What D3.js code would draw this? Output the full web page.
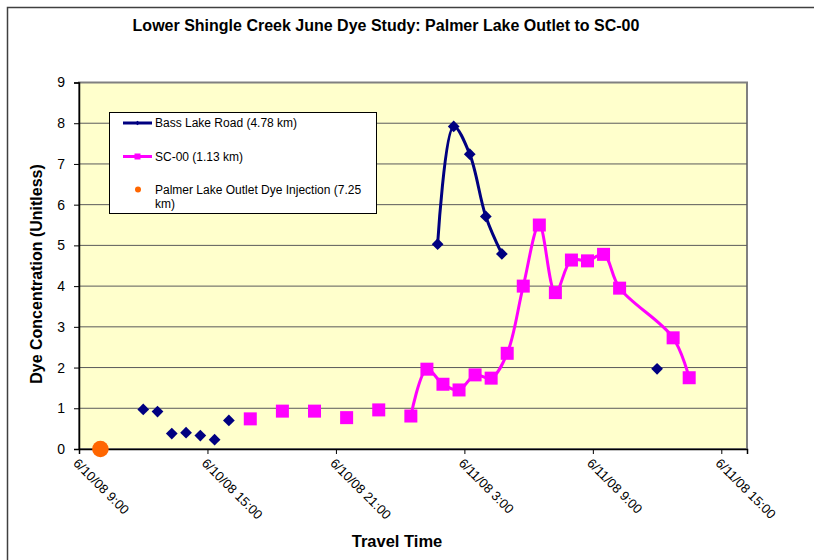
<!DOCTYPE html>
<html>
<head>
<meta charset="utf-8">
<script src="https://cdn.jsdelivr.net/npm/d3@7"></script>
<style>
  body { margin: 0; background: #fff; }
  text { font-family: Arial, "Liberation Sans", sans-serif; }
</style>
</head>
<body>
<div id="chart"></div>
<script>
// Travel times (6/10/08 - 6/11/08) and dye readings
var bassTimes  = ['6/10/08 12:00', '6/10/08 12:40', '6/10/08 13:20', '6/10/08 14:00', '6/10/08 14:40',
                  '6/10/08 15:20', '6/10/08 16:00', '6/11/08 1:45', '6/11/08 2:30', '6/11/08 3:15',
                  '6/11/08 4:00', '6/11/08 4:45', '6/11/08 12:00'];
var bassValues = [0.97, 0.92, 0.38, 0.40, 0.33, 0.23, 0.70, 5.03, 7.92, 7.24, 5.71, 4.79, 1.97];
// runs of consecutive readings joined by a line (blank rows break the line)
var bassRuns   = [0, 1, 2, 3, 4, 5, 6, 7, 7, 7, 7, 7, 8];

var scTimes  = ['6/10/08 17:00', '6/10/08 18:30', '6/10/08 20:00', '6/10/08 21:30', '6/10/08 23:00',
                '6/11/08 0:30', '6/11/08 1:15', '6/11/08 2:00', '6/11/08 2:45', '6/11/08 3:30',
                '6/11/08 4:15', '6/11/08 5:00', '6/11/08 5:45', '6/11/08 6:30', '6/11/08 7:15',
                '6/11/08 8:00', '6/11/08 8:45', '6/11/08 9:30', '6/11/08 10:15', '6/11/08 12:45',
                '6/11/08 13:30'];
var scValues = [0.74, 0.93, 0.93, 0.77, 0.96, 0.81, 1.96, 1.59, 1.45, 1.82, 1.74, 2.35, 4.00, 5.50,
                3.84, 4.64, 4.62, 4.78, 3.95, 2.73, 1.75];
var scRuns   = [0, 1, 2, 3, 4, 5, 5, 5, 5, 5, 5, 5, 5, 5, 5, 5, 5, 5, 5, 5, 5];

var injectTimes  = ['6/10/08 10:00'];
var injectValues = [0];

var xDomain = ['6/10/08 9:00', '6/11/08 16:12'];
var xTickLabels = ['6/10/08 9:00', '6/10/08 15:00', '6/10/08 21:00', '6/11/08 3:00', '6/11/08 9:00', '6/11/08 15:00'];
var yTicks = [0, 1, 2, 3, 4, 5, 6, 7, 8, 9];

var legendLabels = ['Bass Lake Road (4.78 km)', 'SC-00 (1.13 km)', 'Palmer Lake Outlet Dye Injection (7.25', 'km)'];

var parseTime = d3.utcParse('%m/%d/%y %H:%M');

function toPoints(times, values, runs) {
    return times.map(function(t, i) {
        return { t: parseTime(t), v: values[i], run: runs ? runs[i] : i };
    });
}
var bassData = toPoints(bassTimes, bassValues, bassRuns);
var scData = toPoints(scTimes, scValues, scRuns);
var injectData = toPoints(injectTimes, injectValues);

var width = 814, height = 560;
var plot = { left: 79, top: 82.5, right: 747, bottom: 449 };

var svg = d3.select('#chart').append('svg')
    .attr('width', width)
    .attr('height', height);

// outer chart frame (runs off the right and bottom edges)
svg.append('rect')
    .attr('x', 7.5).attr('y', 7.5)
    .attr('width', 830).attr('height', 580)
    .attr('fill', '#fff')
    .attr('stroke', '#404040')
    .attr('stroke-width', 1.5);

var x = d3.scaleUtc()
    .domain(xDomain.map(parseTime))
    .range([plot.left, plot.right]);
var y = d3.scaleLinear()
    .domain([0, 9])
    .range([plot.bottom, plot.top]);

// plot area
svg.append('rect')
    .attr('x', plot.left).attr('y', plot.top)
    .attr('width', plot.right - plot.left).attr('height', plot.bottom - plot.top)
    .attr('fill', '#FFFFCC')
    .attr('stroke', '#808080')
    .attr('stroke-width', 2);

// gridlines
svg.append('g')
    .selectAll('line')
    .data(yTicks.filter(function(d) { return d > 0 && d < 9; }))
    .enter()
    .append('line')
        .attr('x1', plot.left).attr('x2', plot.right)
        .attr('y1', function(d) { return y(d); })
        .attr('y2', function(d) { return y(d); })
        .attr('stroke', '#5a5a5a')
        .attr('stroke-width', 1);

// y axis
var yAxis = svg.append('g')
    .attr('transform', 'translate(' + plot.left + ',0)')
    .call(d3.axisLeft(y).tickValues(yTicks).tickSize(5).tickPadding(9).tickFormat(d3.format('d')));
yAxis.select('.domain').attr('stroke', '#000').attr('stroke-width', 1.5);
yAxis.selectAll('.tick line').attr('stroke', '#000');
yAxis.selectAll('.tick text')
    .attr('font-size', '14px')
    .attr('font-family', 'Arial, "Liberation Sans", sans-serif')
    .attr('fill', '#000');

// x axis
var xTickDates = xTickLabels.map(parseTime);
var xAxis = svg.append('g')
    .attr('transform', 'translate(0,' + plot.bottom + ')')
    .call(d3.axisBottom(x).tickValues(xTickDates).tickSize(5)
        .tickFormat(function(d, i) { return xTickLabels[i]; }));
xAxis.select('.domain').attr('stroke', '#000').attr('stroke-width', 1.5);
xAxis.selectAll('.tick line').attr('stroke', '#000');
xAxis.selectAll('.tick text')
    .attr('font-size', '13px')
    .attr('font-family', 'Arial, "Liberation Sans", sans-serif')
    .attr('fill', '#000')
    .attr('text-anchor', 'start')
    .attr('dy', null)
    .attr('y', 0)
    .attr('transform', 'translate(-7,15) rotate(45)');

// lines
var line = d3.line()
    .x(function(d) { return x(d.t); })
    .y(function(d) { return y(d.v); })
    .curve(d3.curveCatmullRom);

function drawRuns(data, color) {
    var runs = d3.groups(data, function(d) { return d.run; });
    svg.append('g')
        .selectAll('path')
        .data(runs.filter(function(r) { return r[1].length > 1; }))
        .enter()
        .append('path')
            .attr('d', function(r) { return line(r[1]); })
            .attr('fill', 'none')
            .attr('stroke', color)
            .attr('stroke-width', 3);
}
drawRuns(bassData, '#000080');
drawRuns(scData, '#FF00FF');

// markers
svg.append('g')
    .selectAll('path')
    .data(bassData)
    .enter()
    .append('path')
        .attr('d', d3.symbol().type(d3.symbolDiamond2).size(88))
        .attr('transform', function(d) { return 'translate(' + x(d.t) + ',' + y(d.v) + ')'; })
        .attr('fill', '#000080');

svg.append('g')
    .selectAll('rect')
    .data(scData)
    .enter()
    .append('rect')
        .attr('x', function(d) { return x(d.t) - 6.5; })
        .attr('y', function(d) { return y(d.v) - 6.5; })
        .attr('width', 13).attr('height', 13)
        .attr('fill', '#FF00FF');

svg.append('g')
    .selectAll('circle')
    .data(injectData)
    .enter()
    .append('circle')
        .attr('cx', function(d) { return x(d.t); })
        .attr('cy', function(d) { return y(d.v); })
        .attr('r', 8.3)
        .attr('fill', '#FF6600');

// legend
var legend = svg.append('g');
legend.append('rect')
    .attr('x', 109.5).attr('y', 112.5)
    .attr('width', 267).attr('height', 101)
    .attr('fill', '#fff')
    .attr('stroke', '#000')
    .attr('stroke-width', 1);
legend.append('line')
    .attr('x1', 123).attr('x2', 152).attr('y1', 123).attr('y2', 123)
    .attr('stroke', '#000080').attr('stroke-width', 3);
legend.append('path')
    .attr('d', d3.symbol().type(d3.symbolDiamond2).size(14))
    .attr('transform', 'translate(137.5,123)')
    .attr('fill', '#000080');
legend.append('line')
    .attr('x1', 123).attr('x2', 152).attr('y1', 156.5).attr('y2', 156.5)
    .attr('stroke', '#FF00FF').attr('stroke-width', 3);
legend.append('rect')
    .attr('x', 134.5).attr('y', 153.5).attr('width', 6).attr('height', 6)
    .attr('fill', '#FF00FF');
legend.append('circle')
    .attr('cx', 138).attr('cy', 189.5).attr('r', 3)
    .attr('fill', '#FF6600');
legend.selectAll('text')
    .data(legendLabels)
    .enter()
    .append('text')
        .attr('x', 155)
        .attr('y', function(d, i) { return [127, 160.5, 194, 208][i]; })
        .attr('font-size', '12px')
        .attr('fill', '#000')
        .text(function(d) { return d; });

// titles
svg.append('text')
    .attr('x', 386).attr('y', 31)
    .attr('text-anchor', 'middle')
    .attr('font-size', '16px').attr('font-weight', 'bold')
    .text('Lower Shingle Creek June Dye Study: Palmer Lake Outlet to SC-00');

svg.append('text')
    .attr('x', 397).attr('y', 547)
    .attr('text-anchor', 'middle')
    .attr('font-size', '16.5px').attr('font-weight', 'bold')
    .text('Travel Time');

svg.append('text')
    .attr('transform', 'translate(42,274) rotate(-90)')
    .attr('text-anchor', 'middle')
    .attr('font-size', '16px').attr('font-weight', 'bold')
    .text('Dye Concentration (Unitless)');
</script>
</body>
</html>
